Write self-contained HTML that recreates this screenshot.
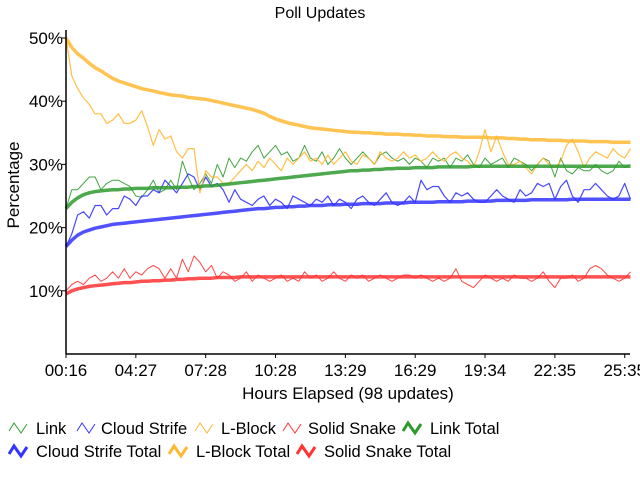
<!DOCTYPE html>
<html><head><meta charset="utf-8"><style>
body{margin:0;background:#fff;}
svg{display:block;font-family:"Liberation Sans Narrow","Liberation Sans",sans-serif;}
</style></head><body>
<svg id="chart" width="640" height="480" viewBox="0 0 640 480" xmlns="http://www.w3.org/2000/svg">
<rect width="640" height="480" fill="#fff"/>
<text x="320" y="18" font-size="16" text-anchor="middle" fill="#000">Poll Updates</text>
<text transform="translate(19,185) rotate(-90)" font-size="17" text-anchor="middle" fill="#000">Percentage</text>
<text x="348" y="399" font-size="17" text-anchor="middle" fill="#000">Hours Elapsed (98 updates)</text>
<g id="grid"></g><g id="series"></g><g id="axes"></g><g id="legend"></g>
</svg>
<script>
const xTickLabels=["00:16","04:27","07:28","10:28","13:29","16:29","19:34","22:35","25:35"];
const yTickValues=[10,20,30,40,50];
const link=[23,26,26,27,28,28,26,27,27.5,27.5,27,26.5,25,24.8,26,27.5,25.5,26,27.5,26,30.5,28,26,27,28.5,27,30,28,31,29.5,31,30.5,32,33,31,32,33,31.5,32,30.5,31,33,31,30.5,32,30,31,32.5,31,30,31,32,31,30,31.5,32,31,30.5,31,30,31,30.5,29.5,31,30.5,31,29.5,31,30.5,31.5,30,29.5,31,30,30.5,31,29.5,31,30.5,30,29,30,31,30.5,28,31,29,28.5,29.5,29,29,30,29,28.5,29,30.5,29.5,30];
const cloud=[17,19,22,22.5,21.5,23.5,23.5,22,23,23,25,24.5,23.5,25,25,26,25.5,27.5,26.5,25.5,27,28.5,28,26,28,26.5,27,26,24,26,24.5,24,23.5,24.5,25,23.5,24.5,24,23,25,24.5,24,23.5,24.5,24,25,23.5,24.5,24,23,24.5,25,24,23.5,24.5,25.5,24,23.5,24,25,24,27.5,26,26.5,26.5,25,24,25.5,25,25.5,24.5,24,24,25,26,25,24.5,24,26,25,25.5,27,26.5,27,24.5,26.5,27.5,25,24,26,26,27,26,25,24.5,25,27,24.5];
const lblock=[50,44,42,40.5,39.5,38,38,36.5,37,38,36.5,36.5,37,38.5,36,33,35.5,34,34.5,32,31,32.5,32.5,25.5,29,28,28,27,27,28,29,30,29,30.5,29.5,31,30,29,31,30,31,32,30.5,31,30,31.5,30,31,32,30.5,30,31.5,31,30,32,31,30.5,31,32,31,31.5,30.5,31,32,31,30.5,31.5,32,31,30.5,29.5,32,35.5,32,34.5,32,30,30,30.5,29.5,28.5,30,31,30,29.5,30.5,33,34,32,29.5,31,32,31.5,31,32.5,31.5,31,32.5];
const snake=[10,11,11.5,11,12,12.5,11.5,12,13,12,13.5,12,13,12.5,13.5,14,13.5,12,13.5,12,15,13,15.5,14.5,13,14,12,13,12.5,11.5,12,13,11.5,12.5,12,11.5,12,12.5,11.5,12,11.5,13,12,12.5,11.5,12,13,12,11.5,12.5,12,12.5,11.5,12,12.5,12,11.5,12,12.5,12.5,12,12.5,12,11.5,12,11.5,12,13.5,11.5,11,10.5,11.5,12.5,12,11.5,12,11.5,12.5,12,12,11.5,12,13,11.5,10.5,12,12,12.5,11.5,12,13.5,14,13.5,12.5,12,11.5,12,13];
const linkTotal=[23,24,24.7,25.2,25.5,25.7,25.8,25.9,26,26,26.1,26.1,26.2,26.2,26.2,26.3,26.3,26.3,26.3,26.4,26.4,26.4,26.5,26.5,26.6,26.6,26.7,26.8,26.9,27,27.1,27.2,27.3,27.4,27.5,27.6,27.7,27.8,27.9,28,28.1,28.2,28.3,28.4,28.5,28.6,28.7,28.8,28.9,29,29,29.1,29.1,29.2,29.2,29.3,29.3,29.4,29.4,29.4,29.5,29.5,29.5,29.5,29.6,29.6,29.6,29.6,29.6,29.6,29.7,29.7,29.7,29.7,29.7,29.7,29.7,29.7,29.7,29.7,29.7,29.7,29.7,29.7,29.7,29.7,29.7,29.7,29.7,29.7,29.7,29.7,29.7,29.7,29.7,29.7,29.7,29.7];
const cloudTotal=[17,18,18.8,19.3,19.6,19.9,20.1,20.3,20.5,20.6,20.7,20.8,20.9,21,21.1,21.2,21.3,21.4,21.5,21.6,21.7,21.8,21.9,22,22.1,22.2,22.3,22.4,22.5,22.6,22.7,22.8,22.9,23,23,23.1,23.2,23.2,23.3,23.3,23.4,23.4,23.5,23.5,23.5,23.6,23.6,23.6,23.7,23.7,23.7,23.8,23.8,23.8,23.8,23.9,23.9,23.9,23.9,24,24,24,24,24,24.1,24.1,24.1,24.1,24.1,24.2,24.2,24.2,24.2,24.2,24.3,24.3,24.3,24.3,24.3,24.3,24.4,24.4,24.4,24.4,24.4,24.4,24.4,24.5,24.5,24.5,24.5,24.5,24.5,24.5,24.5,24.5,24.5,24.5];
const lblockTotal=[50,48.5,47.5,46.8,46,45.3,44.8,44.2,43.6,43.2,42.9,42.6,42.3,42,41.8,41.6,41.4,41.2,41,40.9,40.8,40.6,40.5,40.4,40.3,40.1,39.9,39.7,39.5,39.3,39.1,38.9,38.7,38.4,38.1,37.6,37.2,36.9,36.6,36.4,36.2,36,35.8,35.7,35.6,35.5,35.4,35.3,35.2,35.1,35.1,35,35,34.9,34.9,34.8,34.8,34.8,34.7,34.7,34.6,34.6,34.5,34.5,34.5,34.4,34.4,34.4,34.3,34.3,34.3,34.3,34.3,34.2,34.2,34.2,34.1,34.1,34,34,33.9,33.9,33.9,33.8,33.8,33.8,33.7,33.7,33.7,33.7,33.6,33.6,33.6,33.6,33.5,33.5,33.5,33.5];
const snakeTotal=[9.5,10,10.3,10.5,10.7,10.8,10.9,11,11.1,11.2,11.3,11.3,11.4,11.5,11.5,11.6,11.6,11.7,11.7,11.8,11.8,11.9,11.9,12,12,12,12.1,12.1,12.1,12.1,12.2,12.2,12.2,12.2,12.2,12.2,12.2,12.2,12.2,12.2,12.2,12.2,12.2,12.2,12.2,12.2,12.2,12.2,12.2,12.2,12.2,12.2,12.2,12.2,12.2,12.2,12.2,12.2,12.2,12.2,12.2,12.2,12.2,12.2,12.2,12.2,12.2,12.2,12.2,12.2,12.2,12.2,12.2,12.2,12.2,12.2,12.2,12.2,12.2,12.2,12.2,12.2,12.2,12.2,12.2,12.2,12.2,12.2,12.2,12.2,12.2,12.2,12.2,12.2,12.2,12.2,12.2,12.2];

const NS="http://www.w3.org/2000/svg";
const X0=66,STEP=5.82,Y0=354,PPU=6.32;
const xs=i=>X0+i*STEP;
const ys=v=>Y0-v*PPU;
function mk(tag,attrs,parent){const e=document.createElementNS(NS,tag);for(const k in attrs)e.setAttribute(k,attrs[k]);parent.appendChild(e);return e;}
const axes=document.getElementById('axes'),series=document.getElementById('series'),legend=document.getElementById('legend');

const ya=mk('line',{x1:X0,y1:30,x2:X0,y2:Y0,stroke:'#000','stroke-width':1.5},axes);


const xa=mk('line',{x1:X0,y1:Y0,x2:630,y2:Y0,stroke:'#000','stroke-width':1.5},axes);


yTickValues.forEach(v=>{
  mk('line',{x1:X0-4,y1:ys(v),x2:X0,y2:ys(v),stroke:'#000'},axes);
  const t=mk('text',{x:X0-3,y:ys(v)+6,'font-size':17,'text-anchor':'end'},axes);
  t.textContent=v+'%';
  
  
});
xTickLabels.forEach((l,k)=>{
  const x=xs(k*12);
  mk('line',{x1:x,y1:Y0,x2:x,y2:Y0+4,stroke:'#000'},axes);
  const t=mk('text',{x:x,y:Y0+22,'font-size':17,'text-anchor':'middle'},axes);
  t.textContent=l;
  
  
});

const defs=[
 {d:link,c:'#2e9a2e',w:1,n:'link-line'},
 {d:cloud,c:'#3333ff',w:1.2,n:'cloud-strife-line'},
 {d:lblock,c:'#ffb833',w:1.2,n:'l-block-line'},
 {d:snake,c:'#ff3333',w:1,n:'solid-snake-line'},
 {d:linkTotal,c:'#2e9a2e',w:3.5,n:'link-total-line'},
 {d:cloudTotal,c:'#3333ff',w:3.5,n:'cloud-strife-total-line'},
 {d:lblockTotal,c:'#ffb833',w:3.5,n:'l-block-total-line'},
 {d:snakeTotal,c:'#ff3333',w:3.5,n:'solid-snake-total-line'}
];
defs.forEach(s=>{
  const p=mk('polyline',{points:s.d.map((v,i)=>xs(i).toFixed(1)+','+ys(v).toFixed(1)).join(' '),fill:'none',stroke:s.c,'stroke-width':s.w,'stroke-opacity':s.w>2?0.85:0.9,'stroke-linejoin':'round'},series);
  
  
});

const legendItems=[
 {l:'Link',c:'#2e9a2e',w:1,ix:8,tx:36,y:428},
 {l:'Cloud Strife',c:'#3333ff',w:1,ix:76,tx:101,y:428},
 {l:'L-Block',c:'#ffb833',w:1,ix:194,tx:221,y:428},
 {l:'Solid Snake',c:'#ff3333',w:1,ix:282,tx:308,y:428},
 {l:'Link Total',c:'#2e9a2e',w:3,ix:402,tx:430,y:428},
 {l:'Cloud Strife Total',c:'#3333ff',w:3,ix:8,tx:36,y:451},
 {l:'L-Block Total',c:'#ffb833',w:3,ix:168,tx:196,y:451},
 {l:'Solid Snake Total',c:'#ff3333',w:3,ix:296,tx:324,y:451}
];
legendItems.forEach(it=>{
  const g=mk('g',{},legend);
  
  
  const x=it.ix,y=it.y;
  mk('polyline',{points:`${x+1},${y+3} ${x+6},${y-5} ${x+13},${y+5} ${x+19},${y-4}`,fill:'none',stroke:it.c,'stroke-width':it.w},g);
  const t=mk('text',{x:it.tx,y:y+6,'font-size':16.5},g);
  t.textContent=it.l;
});
</script>
</body></html>
